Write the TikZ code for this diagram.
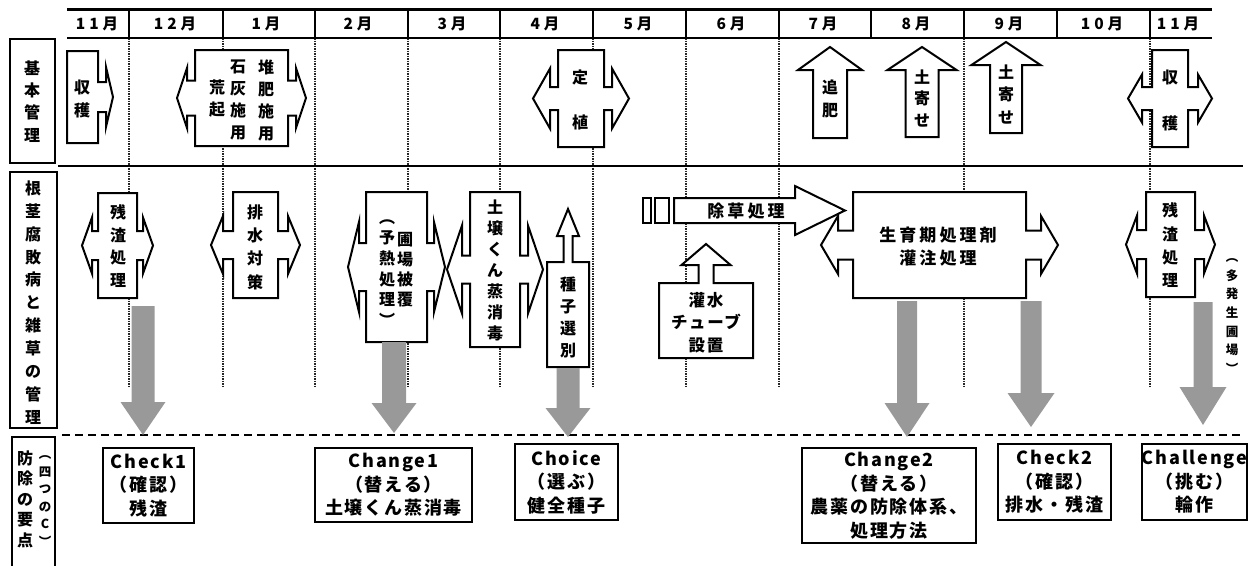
\documentclass[tikz,border=0pt]{standalone}
\usepackage{fontspec}
\setmainfont{Noto Sans CJK JP}
\newfontfamily\jpls{Noto Sans CJK JP}[LetterSpace=10]
\newfontfamily\jpmo{Noto Sans CJK JP}[LetterSpace=25]
\newfontfamily\jpwide{Noto Sans CJK JP}[LetterSpace=18]
\newcommand{\fs}[2]{\fontsize{#1}{#2}\selectfont\bfseries}
% double (left-right) arrow callout: x1 x2 y1 y2 shaft-half head-half shaft-len tip-len
\newcommand{\dcall}[8]{%
  \pgfmathsetmacro{\mycy}{(#3+#4)/2}%
  \draw[box] (#1,#3) -- (#2,#3) -- (#2,\mycy-#5) -- (#2+#7,\mycy-#5) -- (#2+#7,\mycy-#6)
    -- (#2+#7+#8,\mycy) -- (#2+#7,\mycy+#6) -- (#2+#7,\mycy+#5) -- (#2,\mycy+#5) -- (#2,#4)
    -- (#1,#4) -- (#1,\mycy+#5) -- (#1-#7,\mycy+#5) -- (#1-#7,\mycy+#6) -- (#1-#7-#8,\mycy)
    -- (#1-#7,\mycy-#6) -- (#1-#7,\mycy-#5) -- (#1,\mycy-#5) -- cycle;}
% right arrow callout
\newcommand{\rcall}[8]{%
  \pgfmathsetmacro{\mycy}{(#3+#4)/2}%
  \draw[box] (#1,#3) -- (#2,#3) -- (#2,\mycy-#5) -- (#2+#7,\mycy-#5) -- (#2+#7,\mycy-#6)
    -- (#2+#7+#8,\mycy) -- (#2+#7,\mycy+#6) -- (#2+#7,\mycy+#5) -- (#2,\mycy+#5) -- (#2,#4)
    -- (#1,#4) -- cycle;}
% up arrow callout: x1 x2 y1 y2 shaft-half head-half shaft-len tip-len
\newcommand{\ucall}[8]{%
  \pgfmathsetmacro{\mycx}{(#1+#2)/2}%
  \draw[box] (#1,#3) -- (\mycx-#5,#3) -- (\mycx-#5,#3-#7) -- (\mycx-#6,#3-#7) -- (\mycx,#3-#7-#8)
    -- (\mycx+#6,#3-#7) -- (\mycx+#5,#3-#7) -- (\mycx+#5,#3) -- (#2,#3) -- (#2,#4) -- (#1,#4) -- cycle;}
% up block arrow: cx shaft-half head-half tip base bottom
\newcommand{\uarr}[6]{%
  \draw[box] (#1-#2,#6) -- (#1-#2,#5) -- (#1-#3,#5) -- (#1,#4) -- (#1+#3,#5) -- (#1+#2,#5) -- (#1+#2,#6) -- cycle;}
% grey down arrow: cx shaft-half head-half top headstart tip
\newcommand{\garr}[6]{%
  \fill[garrow] (#1-#2,#4) -- (#1+#2,#4) -- (#1+#2,#5) -- (#1+#3,#5) -- (#1,#6) -- (#1-#3,#5) -- (#1-#2,#5) -- cycle;}
\begin{document}
\begin{tikzpicture}[x=1pt,y=-1pt,
  box/.style={draw=black,line width=2pt,fill=white,line join=miter,miter limit=10},
  t/.style={inner sep=0pt,align=center},
  pbox/.style={draw=black,line width=2pt,fill=white,align=center,inner sep=0pt,
    font=\jpls\fontsize{18}{23.5}\selectfont\bfseries},
  vline/.style={line width=1.2pt,black!85,dash pattern=on 1.5pt off 1pt},
  garrow/.style={fill=black!40,draw=none},
  lab/.style={line width=2.6pt}]
\useasboundingbox (0,0) rectangle (1260,565);

% month grid lines
\foreach \x in {129,223,315,408,500,593,686,779,964,1150}
  \draw[vline] (\x,38) -- (\x,387);

% header
\draw[line width=3pt] (67,9) -- (1212,9);
\draw[line width=2.5pt] (67,38) -- (1212,38);
\foreach \x in {129,223,315,408,500,593,686,779,871,964,1057,1150}
  \draw[line width=2.5pt] (\x,9) -- (\x,38);
\foreach \x/\m [count=\i] in {97/11月,175/12月,266/1月,358/2月,452/3月,545/4月,638/5月,731/6月,823/7月,916/8月,1009/9月,1102/10月,1178/11月}
  \node[t,font=\jpmo\fs{15.5}{18}] (m\i) at (\x,24) {\m};

% row separators
\draw[line width=2pt] (58,166) -- (1243,166);
\draw[line width=2pt,dash pattern=on 8pt off 5pt] (62,434.5) -- (1243,434.5);

% left label boxes
\draw[lab] (10,39) rectangle (55,163);
\draw[lab] (10,172) rectangle (57,428);
\draw[lab] (12,570) -- (12,437) -- (55,437) -- (55,570);
\node[t,font=\fs{16}{22.3}] (lab1) at (32,101.5) {基\\本\\管\\理};
\node[t,font=\fs{16}{22.9}] (lab2) at (33,302.5) {根\\茎\\腐\\敗\\病\\と\\雑\\草\\の\\管\\理};
\node[t,font=\fs{16}{20.5}] (lab3a) at (25,499) {防\\除\\の\\要\\点};
\node[t,font=\fs{12.5}{17.6}] (lab3b) at (45,501) {︵\\四\\つ\\の\\C\\︶};

% ---- row 1: basic management
\rcall{67}{98}{51}{143}{15}{30}{8}{7}
\dcall{195}{288}{50}{146}{17.5}{30}{8}{10}
\dcall{558}{604}{50}{147}{11.5}{30}{8}{17}
\uarr{830}{17}{32}{47}{70}{138}
\uarr{922}{16.5}{34.5}{47}{70}{137}
\uarr{1006}{16}{34.5}{42}{65}{133}
\dcall{1152}{1188}{50}{147}{11.5}{24}{10}{14}

\node[t,font=\fs{16}{23}] (shukaku1) at (82,98.5) {収\\穫};
\node[t,font=\fs{16}{22}] (araoko) at (217,99) {荒\\起};
\node[t,font=\fs{16}{22}] (sekkai) at (238,100) {石\\灰\\施\\用};
\node[t,font=\fs{16}{22}] (taihi) at (266,100) {堆\\肥\\施\\用};
\node[t,font=\fs{16}{45}] (teishoku) at (580,99.5) {定\\植};
\node[t,font=\fs{16}{23}] (tsuihi) at (830,98.5) {追\\肥};
\node[t,font=\fs{16}{21.5}] (tsuchi1) at (922,98.5) {土\\寄\\せ};
\node[t,font=\fs{16}{22.5}] (tsuchi2) at (1006,94.5) {土\\寄\\せ};
\node[t,font=\fs{16}{46}] (shukaku2) at (1170,100) {収\\穫};

% ---- row 2: disease and weed management
\dcall{98}{137}{193}{298}{14.5}{28}{6}{10}
\dcall{233}{278}{192}{298}{14}{29}{10}{12}
\dcall{366}{427}{192}{342}{24}{45}{7}{11}
\dcall{470}{520}{192}{347}{14}{44}{8}{15}
\ucall{547}{589}{262}{367}{4.5}{11}{26}{27}
\ucall{659}{753}{283}{358}{7.5}{24.5}{18}{21}
% weeding arrow
\draw[box] (643,198) rectangle (651,223);
\draw[box] (655,198) rectangle (669,223);
\draw[box] (674,198) -- (795,198) -- (795,186) -- (845,210.5) -- (795,235) -- (795,223) -- (674,223) -- cycle;
\dcall{853}{1026}{192}{298}{14.5}{29}{15}{17}
\dcall{1146}{1195}{192}{297}{14.5}{29}{9}{11}

\node[t,font=\fs{16}{22.7}] (zansa1) at (118,246) {残\\渣\\処\\理};
\node[t,font=\fs{16}{23.3}] (haisui) at (255,247) {排\\水\\対\\策};
\node[t,font=\fs{16}{20}] (hojo) at (405,270) {圃\\場\\被\\覆};
\node[t,font=\fs{16}{20.6}] (yonetsu) at (387,273) {︵\\予\\熱\\処\\理\\︶};
\node[t,font=\fs{16}{21}] (dojo) at (495,270) {土\\壌\\く\\ん\\蒸\\消\\毒};
\node[t,font=\fs{16}{21.7}] (shushi) at (568,317.5) {種\\子\\選\\別};
\node[t,font=\jpwide\fs{17}{20}] (josou) at (746,211) {除草処理};
\node[t,font=\jpls\fs{16.5}{22.5}] (kansui) at (706,322.5) {灌水\\チューブ\\設置};
\node[t,font=\jpwide\fs{17}{23}] (seiiku) at (938,246.5) {生育期処理剤\\灌注処理};
\node[t,font=\fs{16}{23.3}] (zansa2) at (1170,245.5) {残\\渣\\処\\理};
\node[t,font=\fs{12.5}{18.7}] (tahatsu) at (1232,316) {︵\\多\\発\\生\\圃\\場\\︶};

% ---- grey arrows
\garr{143}{11.5}{22.5}{306}{402}{435}
\garr{394}{12}{22.5}{342}{403}{433}
\garr{568}{11.5}{22.5}{368}{408}{437}
\garr{907}{10}{22.5}{301}{403}{437}
\garr{1031}{10.5}{23.5}{301}{393}{427}
\garr{1203}{9.5}{23.5}{302}{387}{425}

% ---- row 3: four C's
\node[pbox,minimum width=91pt,minimum height=75pt] (check1) at (148.5,485.5) {Check1\\（確認）\\残渣};
\node[pbox,minimum width=157pt,minimum height=74pt] (change1) at (393.5,485) {Change1\\（替える）\\土壌くん蒸消毒};
\node[pbox,minimum width=103pt,minimum height=76pt] (choice) at (566.5,482) {Choice\\（選ぶ）\\健全種子};
\node[pbox,minimum width=174pt,minimum height=95pt] (change2) at (889,495.5) {Change2\\（替える）\\農薬の防除体系、\\処理方法};
\node[pbox,minimum width=113pt,minimum height=76pt] (check2) at (1054.5,482) {Check2\\（確認）\\排水・残渣};
\node[pbox,minimum width=105pt,minimum height=76pt] (challenge) at (1194.5,482) {Challenge\\（挑む）\\輪作};
\end{tikzpicture}
\end{document}
